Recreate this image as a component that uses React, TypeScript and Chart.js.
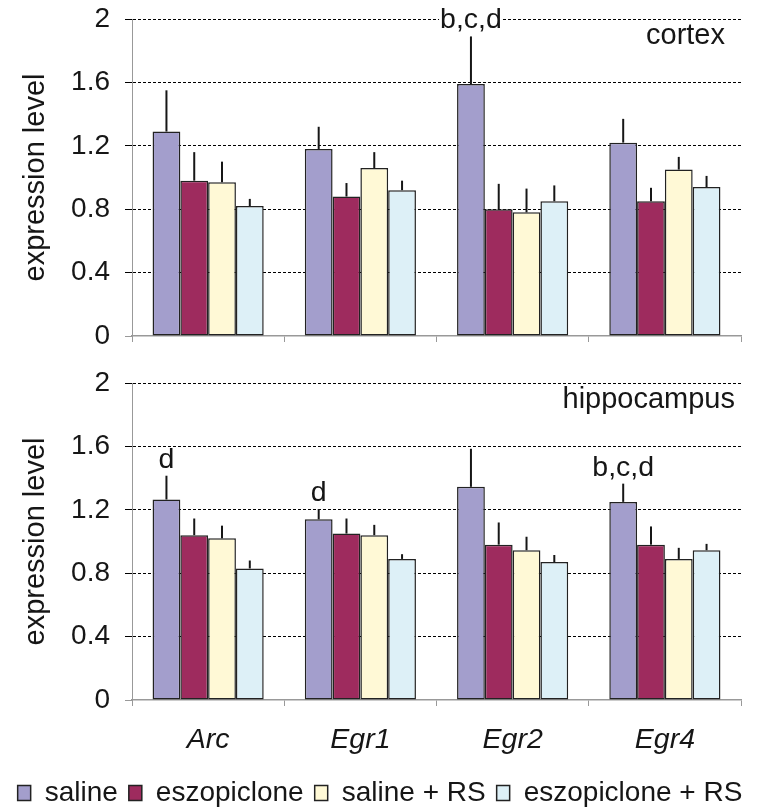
import React, { useEffect, useRef } from 'react';
import { Chart, registerables } from 'chart.js';

Chart.register(...registerables);

const FONT = '"Liberation Sans", Arial, Helvetica, sans-serif';
const TEXT = '#161616';

const categories = ['Arc', 'Egr1', 'Egr2', 'Egr4'];
const seriesLabels = ['saline', 'eszopiclone', 'saline + RS', 'eszopiclone + RS'];
const seriesColors = ['#A39ECC', '#9E2B5E', '#FFF9D6', '#DDF0F7'];
const yTickValues = [0, 0.4, 0.8, 1.2, 1.6, 2];

// cortex
const cortexSaline = [1.29, 1.18, 1.59, 1.22];
const cortexEszopiclone = [0.98, 0.88, 0.8, 0.85];
const cortexSalineRS = [0.97, 1.06, 0.78, 1.05];
const cortexEszopicloneRS = [0.82, 0.92, 0.85, 0.94];
const cortexSalineErr = [0.26, 0.14, 0.3, 0.15];
const cortexEszopicloneErr = [0.18, 0.085, 0.16, 0.085];
const cortexSalineRSErr = [0.13, 0.1, 0.15, 0.08];
const cortexEszopicloneRSErr = [0.045, 0.06, 0.1, 0.07];

// hippocampus
const hippoSaline = [1.265, 1.14, 1.345, 1.25];
const hippoEszopiclone = [1.04, 1.05, 0.98, 0.98];
const hippoSalineRS = [1.02, 1.04, 0.945, 0.89];
const hippoEszopicloneRS = [0.83, 0.89, 0.87, 0.945];
const hippoSalineErr = [0.15, 0.065, 0.24, 0.115];
const hippoEszopicloneErr = [0.105, 0.095, 0.14, 0.115];
const hippoSalineRSErr = [0.08, 0.065, 0.085, 0.07];
const hippoEszopicloneRSErr = [0.05, 0.03, 0.045, 0.04];

type Mark = { category: string; series: number; text: string };
const cortexMarks: Mark[] = [{ category: 'Egr2', series: 0, text: 'b,c,d' }];
const hippoMarks: Mark[] = [
  { category: 'Arc', series: 0, text: 'd' },
  { category: 'Egr1', series: 0, text: 'd' },
  { category: 'Egr4', series: 0, text: 'b,c,d' },
];

function makeOverlay(errors: number[][], marks: Mark[], panel: string, panelInset: number) {
  return {
    id: 'overlay',
    afterDatasetsDraw(chart: any) {
      const { ctx, chartArea } = chart;
      const yScale = chart.scales.y;
      ctx.save();
      ctx.strokeStyle = TEXT;
      ctx.lineWidth = 2;
      chart.data.datasets.forEach((ds: any, di: number) => {
        const meta = chart.getDatasetMeta(di);
        meta.data.forEach((bar: any, i: number) => {
          const yTop = yScale.getPixelForValue(ds.data[i] + errors[di][i]);
          ctx.beginPath();
          ctx.moveTo(bar.x, bar.y);
          ctx.lineTo(bar.x, yTop);
          ctx.stroke();
        });
      });
      ctx.font = `28.5px ${FONT}`;
      ctx.textBaseline = 'alphabetic';
      marks.forEach((m) => {
        const ci = categories.indexOf(m.category);
        const bar: any = chart.getDatasetMeta(m.series).data[ci];
        const ds = chart.data.datasets[m.series];
        const yTop = yScale.getPixelForValue((ds.data[ci] as number) + errors[m.series][ci]);
        const base = yTop - 8;
        const w = ctx.measureText(m.text).width;
        ctx.fillStyle = '#ffffff';
        ctx.fillRect(bar.x - w / 2 - 1, base - 20, w + 2, 20);
        ctx.fillStyle = TEXT;
        ctx.textAlign = 'center';
        ctx.fillText(m.text, bar.x, base);
      });
      ctx.font = `29px ${FONT}`;
      ctx.textAlign = 'right';
      ctx.fillStyle = TEXT;
      ctx.fillText(panel, chartArea.right - panelInset, chartArea.top + 25);
      ctx.restore();
    },
  };
}

function makeConfig(
  values: number[][],
  errors: number[][],
  marks: Mark[],
  panel: string,
  panelInset: number,
  bottom: boolean
): any {
  return {
    type: 'bar',
    data: {
      labels: categories,
      datasets: values.map((d, i) => ({
        label: seriesLabels[i],
        data: d,
        backgroundColor: seriesColors[i],
        borderColor: '#222222',
        borderWidth: 1.5,
        borderSkipped: false,
        barPercentage: 1,
        categoryPercentage: 0.73,
      })),
    },
    options: {
      responsive: false,
      animation: false,
      layout: { padding: { top: bottom ? 23 : 19, bottom: bottom ? 3 : 0, left: 0, right: 0 } },
      plugins: {
        tooltip: { enabled: false },
        legend: bottom
          ? {
              display: true,
              position: 'bottom',
              labels: {
                boxWidth: 13,
                boxHeight: 15,
                font: { family: FONT, size: 28 },
                color: TEXT,
                padding: 11,
              },
            }
          : { display: false },
      },
      scales: {
        x: {
          type: 'category',
          grid: {
            display: true,
            offset: true,
            drawOnChartArea: false,
            drawTicks: true,
            tickLength: 6,
            color: '#999999',
            lineWidth: 1,
          },
          border: { display: true, color: '#999999', width: 1.5 },
          ticks: bottom
            ? { font: { family: FONT, size: 28.5, style: 'italic' }, color: TEXT, padding: 16.5 }
            : { display: false },
          afterFit: (s: any) => {
            s.height = bottom ? 68 : 24;
            s.paddingLeft = 0;
            s.paddingRight = 0;
            s.paddingTop = 0;
            s.paddingBottom = 0;
          },
        },
        y: {
          type: 'linear',
          min: 0,
          max: 2,
          afterBuildTicks: (s: any) => {
            s.ticks = yTickValues.map((v) => ({ value: v }));
          },
          ticks: {
            font: { family: FONT, size: 28 },
            color: TEXT,
            padding: 15,
            callback: (v: any) => String(v),
          },
          grid: {
            color: (c: any) => (c.tick && c.tick.value === 0 ? 'rgba(0,0,0,0)' : '#000000'),
            tickColor: (c: any) => (c.tick && c.tick.value === 0 ? '#999999' : '#000000'),
            tickLength: 7,
            lineWidth: 1,
          },
          border: { display: true, color: '#999999', width: 1, dash: [3, 2] },
          title: {
            display: true,
            text: 'expression level',
            font: { family: FONT, size: 29 },
            color: TEXT,
            padding: { top: 18.5, bottom: 0 },
          },
          afterFit: (s: any) => {
            s.width = 132;
            s.paddingTop = 0;
            s.paddingBottom = 0;
            s.paddingLeft = 0;
            s.paddingRight = 0;
          },
        },
        yRight: {
          type: 'linear',
          position: 'right',
          display: true,
          grid: { display: false },
          ticks: { display: false },
          border: { display: false },
          afterFit: (s: any) => {
            s.width = 19;
            s.paddingTop = 0;
            s.paddingBottom = 0;
          },
        },
      },
    },
    plugins: [makeOverlay(errors, marks, panel, panelInset)],
  };
}

export default function App() {
  const topRef = useRef<HTMLCanvasElement>(null);
  const bottomRef = useRef<HTMLCanvasElement>(null);

  useEffect(() => {
    const top = new Chart(
      topRef.current as HTMLCanvasElement,
      makeConfig(
        [cortexSaline, cortexEszopiclone, cortexSalineRS, cortexEszopicloneRS],
        [cortexSalineErr, cortexEszopicloneErr, cortexSalineRSErr, cortexEszopicloneRSErr],
        cortexMarks,
        'cortex',
        16,
        false
      )
    );
    const bottom = new Chart(
      bottomRef.current as HTMLCanvasElement,
      makeConfig(
        [hippoSaline, hippoEszopiclone, hippoSalineRS, hippoEszopicloneRS],
        [hippoSalineErr, hippoEszopicloneErr, hippoSalineRSErr, hippoEszopicloneRSErr],
        hippoMarks,
        'hippocampus',
        6,
        true
      )
    );
    return () => {
      top.destroy();
      bottom.destroy();
    };
  }, []);

  return (
    <div style={{ position: 'absolute', left: 0, top: 0, width: 760, height: 810, background: '#ffffff', overflow: 'hidden' }}>
      <canvas ref={topRef} width={760} height={360} style={{ position: 'absolute', left: 0, top: 0, display: 'block' }} />
      <canvas ref={bottomRef} width={760} height={460} style={{ position: 'absolute', left: 0, top: 360, display: 'block' }} />
    </div>
  );
}
